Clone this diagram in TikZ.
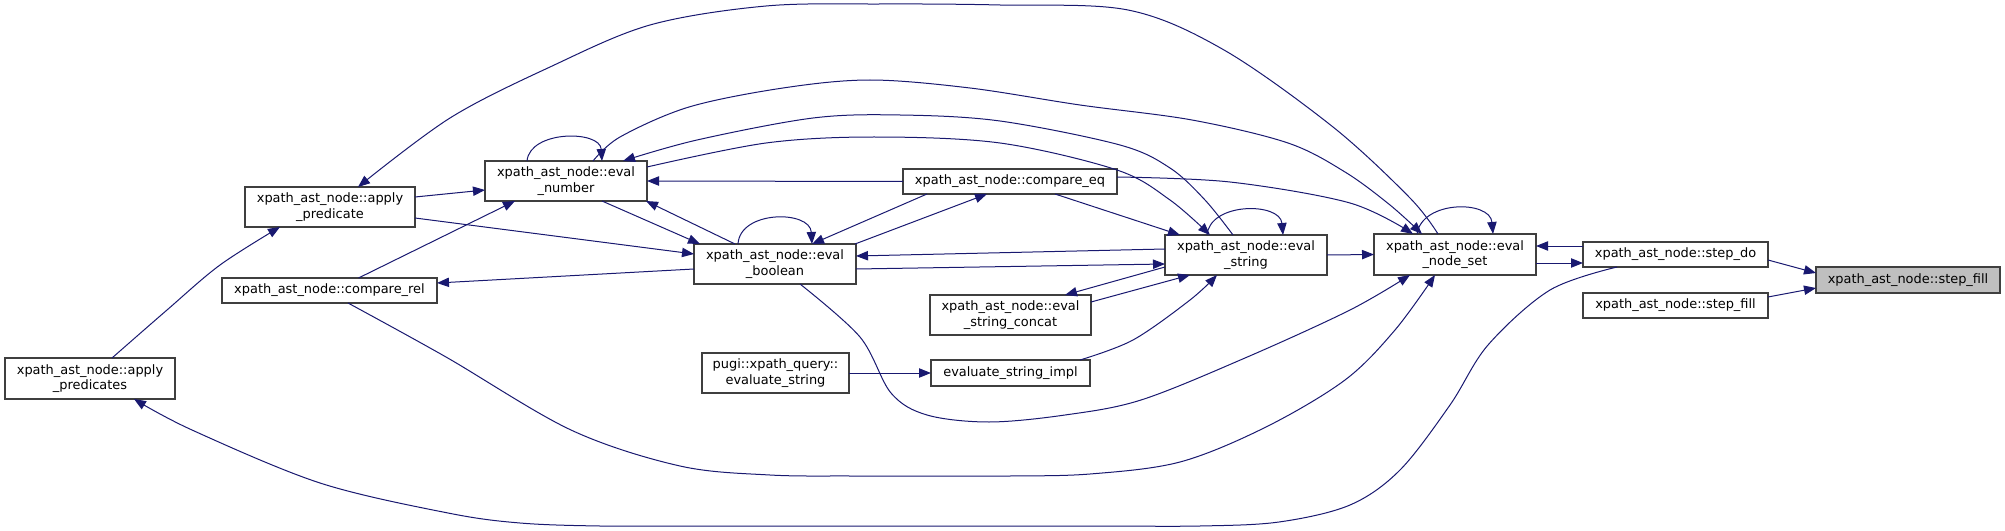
\documentclass[tikz,border=0pt]{standalone}
\usepackage{fontspec}
\setmainfont{DejaVu Sans}
\usetikzlibrary{arrows.meta,calc}
\definecolor{edgec}{HTML}{191970}
\definecolor{bord}{HTML}{3F3F3F}
\definecolor{rootfill}{HTML}{BFBFBF}
\tikzset{
  box/.style={draw=bord, fill=white, line width=0.8pt, inner sep=0pt, outer sep=0pt, align=center,
    font=\fontsize{9.7}{11.5}\selectfont},
  edge/.style={draw=edgec, line width=0.75pt, -{Triangle[length=9pt,width=7pt]}},
  sm/.style={smooth, tension=0.55},
}
\begin{document}
\begin{tikzpicture}[x=0.75pt,y=-0.75pt]
\useasboundingbox (0,0) rectangle (2005,531);
% nodes
\node[box, minimum width=127.5pt, minimum height=30.75pt] (apd) at (90,378.5) {xpath\_ast\_node::apply\\\_predicates};
\node[box, minimum width=127.5pt, minimum height=30pt] (ap) at (330,207) {xpath\_ast\_node::apply\\\_predicate};
\node[box, minimum width=161.25pt, minimum height=18.75pt] (cr) at (329.5,290.5) {xpath\_ast\_node::compare\_rel};
\node[box, minimum width=121.5pt, minimum height=30pt] (en) at (566,181) {xpath\_ast\_node::eval\\\_number};
\node[box, minimum width=121.5pt, minimum height=30pt] (eb) at (775,264) {xpath\_ast\_node::eval\\\_boolean};
\node[box, minimum width=110.25pt, minimum height=30pt] (pugi) at (775.5,373) {pugi::xpath\_query::\\evaluate\_string};
\node[box, minimum width=160.5pt, minimum height=18.75pt] (ceq) at (1010,181.5) {xpath\_ast\_node::compare\_eq};
\node[box, minimum width=121.5pt, minimum height=30pt] (es) at (1246,255) {xpath\_ast\_node::eval\\\_string};
\node[box, minimum width=120.75pt, minimum height=30pt] (esc) at (1010.5,315) {xpath\_ast\_node::eval\\\_string\_concat};
\node[box, minimum width=119.25pt, minimum height=19.5pt] (impl) at (1010.5,373) {evaluate\_string\_impl};
\node[box, minimum width=121.5pt, minimum height=30.75pt] (ens) at (1455,254.5) {xpath\_ast\_node::eval\\\_node\_set};
\node[box, minimum width=138.75pt, minimum height=18.75pt] (sd) at (1675.5,254.5) {xpath\_ast\_node::step\_do};
\node[box, minimum width=138.75pt, minimum height=18.75pt] (sf2) at (1675.5,305.5) {xpath\_ast\_node::step\_fill};
\node[box, fill=rootfill, minimum width=138pt, minimum height=19.5pt] (sf) at (1908,280) {xpath\_ast\_node::step\_fill};
% straight edges
\draw[edge] ($(sd)+(92.5,5.5)$) -- ($(sf)+(-92,-7)$);
\draw[edge] ($(sf2)+(92.5,-8.5)$) -- ($(sf)+(-92,8)$);
\draw[edge] ($(sd)+(-92.5,-8.5)$) -- ($(ens)+(81,-8.5)$);
\draw[edge] ($(ens)+(81,8.5)$) -- ($(sd)+(-92.5,8.5)$);
\draw[edge] (es.east) -- (ens.west);
\draw[edge] (pugi.east) -- (impl.west);
\draw[edge] (ceq.west) -- (en.east);
\draw[edge] ($(ap)+(85,-10)$) -- ($(en)+(-81,9)$);
\draw[edge] ($(ap)+(85,11)$) -- ($(eb)+(-81,-10)$);
\draw[edge] ($(cr)+(29,-12.5)$) -- ($(en)+(-51,20)$);
\draw[edge] ($(eb)+(-81,5)$) -- ($(cr)+(107.5,-7.5)$);
\draw[edge] ($(en)+(36,20)$) -- ($(eb)+(-75,-20)$);
\draw[edge] ($(eb)+(-40,-20)$) -- ($(en)+(80,20)$);
\draw[edge] ($(ceq)+(-83,12.5)$) -- ($(eb)+(37,-20)$);
\draw[edge] ($(eb)+(80,-20)$) -- ($(ceq)+(-23,12.5)$);
\draw[edge] ($(ceq)+(45,12.5)$) -- ($(es)+(-66,-20)$);
\draw[edge] ($(es)+(-81,-6)$) -- ($(eb)+(81,-8)$);
\draw[edge] ($(eb)+(81,5)$) -- ($(es)+(-81,9)$);
\draw[edge] ($(es)+(-81,12)$) -- ($(esc)+(54.5,-20)$);
\draw[edge] ($(esc)+(80.5,-13)$) -- ($(es)+(-56,20)$);
% self loops
\draw[edge] ($(en)+(-39,-20)$) .. controls ($(en)+(-36,-51)$) and ($(en)+(34,-51)$) .. ($(en)+(36,-20)$);
\draw[edge] ($(eb)+(-37,-20)$) .. controls ($(eb)+(-35,-54)$) and ($(eb)+(35,-54)$) .. ($(eb)+(37,-20)$);
\draw[edge] ($(es)+(-39,-20)$) .. controls ($(es)+(-36,-53)$) and ($(es)+(34,-53)$) .. ($(es)+(37,-20)$);
\draw[edge] ($(ens)+(-38,-20.5)$) .. controls ($(ens)+(-33,-54.5)$) and ($(ens)+(35,-54.5)$) .. ($(ens)+(38,-20.5)$);
% curved edges
\draw[edge] plot[sm] coordinates {($(apd)+(22,-20.5)$) (167,310) (220,265) ($(ap)+(-50,20)$)};
\draw[edge] plot[sm] coordinates {($(impl)+(69.5,-13)$) (1133,340) (1190,300) ($(es)+(-29,20)$)};
\draw[edge] plot[sm] coordinates {($(ens)+(-17,-20.5)$) (1410,198) (1333,127) (1224,50) (1128,10) (1000,5) (880,4) (766,6) (650,25) (550,67) (450,118) ($(ap)+(28,-20)$)};
\draw[edge] plot[sm] coordinates {($(en)+(27,-20)$) (620,137) (689,107) (783,88) (870,80) (970,88) (1080,105) (1192,120) (1288,143) (1345,172) (1390,205) ($(ens)+(-33,-20.5)$)};
\draw[edge] plot[sm] coordinates {($(es)+(-13,-20)$) (1205,200) (1170,168) (1120,145) (1000,121) (900,115) (813,118) (697,140) ($(en)+(57,-20)$)};
\draw[edge] plot[sm] coordinates {($(en)+(81,-14)$) (766,143) (874,137) (1000,143) (1117,170) (1170,200) ($(es)+(-36,-20)$)};
\draw[edge] plot[sm] coordinates {($(ceq)+(107,-4.5)$) (1230,182) (1350,203) ($(ens)+(-42,-20.5)$)};
\draw[edge] plot[sm] coordinates {($(eb)+(25,20)$) (860,337) (891,393) (927,415) (989,422) (1065,415) (1141,400) (1245,358) (1350,310) ($(ens)+(-45,20.5)$)};
\draw[edge] plot[sm] coordinates {($(cr)+(18.5,12.5)$) (446,357) (571,430) (680,466) (770,475) (850,476) (930,476) (1010,476) (1090,474) (1180,462) (1266,427) (1345,380) (1395,330) ($(ens)+(-20,20.5)$)};
\draw[edge] plot[sm] coordinates {($(sd)+(-58.5,12.5)$) (1550,290) (1488,345) (1450,405) (1400,470) (1350,505) (1279,522) (1200,526) (1100,526) (1000,526) (900,526) (800,526) (700,526) (600,526) (520,523) (448,513) (320,483) (192,430) ($(apd)+(44,20.5)$)};
\end{tikzpicture}
\end{document}
